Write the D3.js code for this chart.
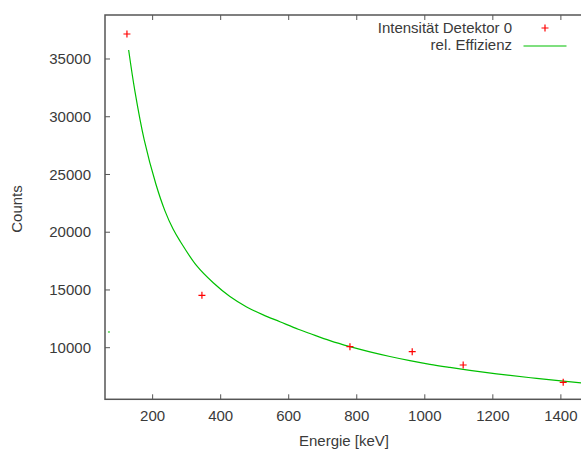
<!DOCTYPE html>
<html><head><meta charset="utf-8">
<script src="https://cdn.jsdelivr.net/npm/d3@7"></script>
<style>
body{margin:0;background:#fff;}
text{font-family:"Liberation Sans",Arial,sans-serif;}
</style></head>
<body><svg id="c" width="581" height="452"></svg>
<script>
// measured data points: energy [keV] and counts
const pointEnergy = [124.5, 344.9, 780, 963, 1112.8, 1406.8];
const pointCounts = [37165, 14538, 10087, 9654, 8502, 7004];
// efficiency curve
const curveEnergy = [129.5, 148, 175.3, 209.7, 236.2, 260.5, 280.2, 329.3, 378.1, 427.2, 476.3, 525.1, 574.1, 627.9, 662.3, 721.1, 780, 838.7, 897.4, 956.2, 1015, 1073.8, 1132.6, 1211, 1328.6, 1465];
const curveCounts = [35780, 32200, 28000, 24150, 21850, 20250, 19250, 17100, 15620, 14430, 13530, 12840, 12250, 11600, 11230, 10610, 10090, 9640, 9240, 8880, 8560, 8290, 8040, 7740, 7340, 6930];
// stray sample of the curve
const strayEnergy = [71.6];
const strayCounts = [11360];
const xTicks = [200, 400, 600, 800, 1000, 1200, 1400];
const yTicks = [10000, 15000, 20000, 25000, 30000, 35000];
const legendLabels = ["Intensität Detektor 0", "rel. Effizienz"];

const svg = d3.select("#c");
const L = 105, R = 583, T = 15, B = 399.3;
const x = d3.scaleLinear().domain([60, 1465]).range([L, R]);
const y = d3.scaleLinear().domain([5532, 38810]).range([B, T]);
const axisCol = "#555", textCol = "#3a3a3a";

svg.append("defs").append("clipPath").attr("id","clip")
  .append("rect").attr("x",L).attr("y",T).attr("width",R-L).attr("height",B-T);

// ticks
const tl = 5;
const g = svg.append("g");
xTicks.forEach(t => {
  g.append("line").attr("x1",x(t)).attr("x2",x(t)).attr("y1",B).attr("y2",B-tl).attr("stroke",axisCol);
  g.append("line").attr("x1",x(t)).attr("x2",x(t)).attr("y1",T).attr("y2",T+tl).attr("stroke",axisCol);
  g.append("text").attr("x",x(t)).attr("y",421).attr("text-anchor","middle")
    .attr("font-size",15).attr("fill",textCol).text(t);
});
yTicks.forEach(t => {
  g.append("line").attr("x1",L).attr("x2",L+tl).attr("y1",y(t)).attr("y2",y(t)).attr("stroke",axisCol);
  g.append("text").attr("x",91).attr("y",y(t)).attr("dy","0.35em").attr("text-anchor","end")
    .attr("font-size",15).attr("fill",textCol).text(t);
});
// border
svg.append("rect").attr("x",L).attr("y",T).attr("width",R-L).attr("height",B-T)
  .attr("fill","none").attr("stroke",axisCol).attr("stroke-width",1.5);

// axis labels
svg.append("text").attr("x",344).attr("y",446).attr("text-anchor","middle")
  .attr("font-size",15).attr("fill",textCol).text("Energie [keV]");
svg.append("text").attr("transform","translate(22,209) rotate(-90)").attr("text-anchor","middle")
  .attr("font-size",15).attr("fill",textCol).text("Counts");

const plot = svg.append("g").attr("clip-path","url(#clip)");
const green = "#00c000", red = "#ff0000";
const line = d3.line().x(d=>x(d[0])).y(d=>y(d[1])).curve(d3.curveCatmullRom.alpha(0.5));
plot.append("path").datum(curveEnergy.map((e,i)=>[e,curveCounts[i]]))
  .attr("d",line).attr("fill","none").attr("stroke",green).attr("stroke-width",1.2);
strayEnergy.forEach((e,i)=>{
  plot.append("line").attr("x1",x(e)-1).attr("x2",x(e)+1).attr("y1",y(strayCounts[i])).attr("y2",y(strayCounts[i]))
    .attr("stroke",green).attr("stroke-width",1);
});
function plus(sel, cx, cy){
  sel.append("path").attr("d",`M${cx-3.5},${cy}H${cx+3.5}M${cx},${cy-3.5}V${cy+3.5}`)
    .attr("stroke",red).attr("stroke-width",1.2).attr("fill","none");
}
pointEnergy.forEach((e,i)=>plus(plot, x(e), y(pointCounts[i])));

// legend
svg.append("text").attr("x",512).attr("y",28).attr("dy","0.35em").attr("text-anchor","end")
  .attr("font-size",15).attr("fill",textCol).text(legendLabels[0]);
plus(svg, 545, 28);
svg.append("text").attr("x",512).attr("y",45).attr("dy","0.35em").attr("text-anchor","end")
  .attr("font-size",15).attr("fill",textCol).text(legendLabels[1]);
svg.append("line").attr("x1",523.5).attr("x2",566.5).attr("y1",46).attr("y2",46)
  .attr("stroke",green).attr("stroke-width",1.2);
</script></body></html>
